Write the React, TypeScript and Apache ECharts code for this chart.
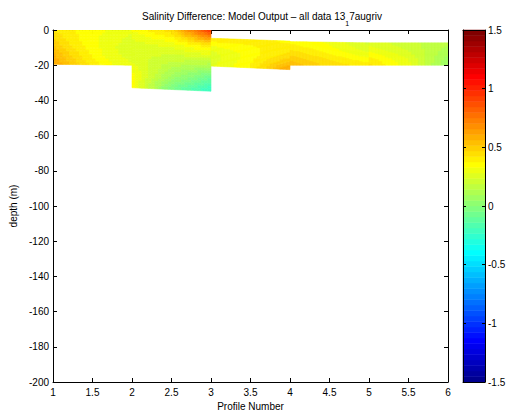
import React, { useEffect, useRef } from "react";
import * as echarts from "echarts";

// ---- data ----
// each section spans two neighbouring profiles
const sectionStart = [1, 2, 3, 4, 5];
const sectionEnd = [2, 3, 4, 5, 6];
const topDepthStart = [0, 0, -4.7, -6.6, -7.3];
const topDepthEnd = [0, 0, -6.3, -7.3, -7.3];
const bottomDepthStart = [-19.5, -32.8, -20.5, -20, -20];
const bottomDepthEnd = [-20, -34.8, -22.5, -20, -20];

// salinity difference at section nodes: rows top -> bottom, columns evenly spaced from start to end profile
const salinitySection1 = [
  [0.42, 0.38, 0.35, 0.32, 0.29],
  [0.47, 0.39, 0.34, 0.3, 0.27],
  [0.52, 0.42, 0.35, 0.29, 0.25],
  [0.58, 0.46, 0.37, 0.3, 0.26],
  [0.62, 0.5, 0.4, 0.33, 0.29],
];
const salinitySection2 = [
  [0.33, 0.45, 0.96],
  [0.26, 0.3, 0.42],
  [0.26, 0.2, 0.2],
  [0.34, 0.1, -0.05],
  [0.36, -0.05, -0.26],
];
const salinitySection3 = [
  [0.42, 0.4, 0.36],
  [0.34, 0.37, 0.4],
  [0.27, 0.35, 0.44],
  [0.25, 0.36, 0.52],
  [0.27, 0.38, 0.62],
];
const salinitySection4 = [
  [0.36, 0.32, 0.22],
  [0.4, 0.34, 0.25],
  [0.45, 0.37, 0.29],
  [0.5, 0.42, 0.34],
  [0.55, 0.45, 0.4],
];
const salinitySection5 = [
  [0.26, 0.2, 0.15],
  [0.3, 0.22, 0.13],
  [0.35, 0.25, 0.1],
  [0.4, 0.28, 0.07],
  [0.43, 0.3, 0.04],
];
const sections = [salinitySection1, salinitySection2, salinitySection3, salinitySection4, salinitySection5];

const colorMin = -1.5;
const colorMax = 1.5;
const FONT = "Liberation Sans, Arial, Helvetica, sans-serif";

function jetColor(index: number) {
  const u = (k: number) => (k < 1 || k > 47 ? 0 : k <= 16 ? k / 16 : k <= 31 ? 1 : (48 - k) / 16);
  const r = u(index - 24), g = u(index - 8), b = u(index + 8);
  return `rgb(${Math.round(r * 255)},${Math.round(g * 255)},${Math.round(b * 255)})`;
}
function valueColor(v: number) {
  const i = Math.min(64, Math.max(1, Math.floor(((v - colorMin) / (colorMax - colorMin)) * 64) + 1));
  return jetColor(i);
}
function sample(grid: number[][], u: number, v: number) {
  const cx = u * (grid[0].length - 1);
  const cy = v * (grid.length - 1);
  const i0 = Math.min(Math.floor(cx), grid[0].length - 2);
  const j0 = Math.min(Math.floor(cy), grid.length - 2);
  const fx = cx - i0, fy = cy - j0;
  const a = grid[j0][i0] * (1 - fx) + grid[j0][i0 + 1] * fx;
  const b = grid[j0 + 1][i0] * (1 - fx) + grid[j0 + 1][i0 + 1] * fx;
  return a * (1 - fy) + b * fy;
}

export default function App() {
  const ref = useRef<HTMLDivElement>(null);
  useEffect(() => {
    if (!ref.current) return;
    const chart = echarts.init(ref.current, undefined, { renderer: "svg" });
    const sectionData = sectionStart.map((s, i) => [s, sectionEnd[i], topDepthStart[i], topDepthEnd[i], bottomDepthStart[i], bottomDepthEnd[i]]);
    const axisLine = { show: true, onZero: false, lineStyle: { color: "#000", width: 1 } };
    const label = { color: "#000", fontSize: 10, fontFamily: FONT };
    chart.setOption({
      animation: false,
      backgroundColor: "#fff",
      title: {
        text: "{a|Salinity Difference: Model Output – all data 13}{s|1}{a|7augriv}",
        left: 137,
        top: 6,
        textStyle: {
          fontWeight: "normal",
          rich: {
            a: { fontSize: 10, fontFamily: FONT, color: "#000", fontWeight: "normal", lineHeight: 12, verticalAlign: "top" },
            s: { fontSize: 7, fontFamily: FONT, color: "#000", fontWeight: "normal", lineHeight: 8, padding: [9, 0, 0, 0], verticalAlign: "top" },
          },
        },
      },
      grid: [
        { left: 53, top: 30, width: 395, height: 352, outerBoundsMode: "none" },
        { left: 463, top: 30, width: 22, height: 352, outerBoundsMode: "none" },
      ],
      xAxis: [
        {
          type: "value", gridIndex: 0, min: 1, max: 6, interval: 0.5, position: "bottom", z: 3,
          axisLine, axisTick: { inside: true, length: 4, lineStyle: { color: "#000" } },
          axisLabel: { ...label, margin: 5 }, splitLine: { show: false },
          name: "Profile Number", nameLocation: "middle", nameGap: 16,
          nameTextStyle: { ...label },
        },
        {
          type: "value", gridIndex: 0, min: 1, max: 6, interval: 0.5, position: "top", z: 0,
          axisLine, axisTick: { inside: true, length: 4, lineStyle: { color: "#000" } },
          axisLabel: { show: false }, splitLine: { show: false },
        },
        {
          type: "value", gridIndex: 1, min: 0, max: 1, position: "bottom", z: 3,
          axisLine, axisTick: { show: false }, axisLabel: { show: false }, splitLine: { show: false },
        },
        {
          type: "value", gridIndex: 1, min: 0, max: 1, position: "top", z: 3,
          axisLine, axisTick: { show: false }, axisLabel: { show: false }, splitLine: { show: false },
        },
      ],
      yAxis: [
        {
          type: "value", gridIndex: 0, min: -200, max: 0, interval: 20, position: "left", z: 3,
          axisLine, axisTick: { inside: true, length: 4, lineStyle: { color: "#000" } },
          axisLabel: { ...label, margin: 4 }, splitLine: { show: false },
          name: "depth (m)", nameLocation: "middle", nameGap: 27, nameRotate: 90,
          nameTextStyle: { ...label },
        },
        {
          type: "value", gridIndex: 0, min: -200, max: 0, interval: 20, position: "right", z: 3,
          axisLine, axisTick: { inside: true, length: 4, lineStyle: { color: "#000" } },
          axisLabel: { show: false }, splitLine: { show: false },
        },
        {
          type: "value", gridIndex: 1, min: -1.5, max: 1.5, interval: 0.5, position: "right", z: 3,
          axisLine, axisTick: { inside: true, length: 3, lineStyle: { color: "#000" } },
          axisLabel: { ...label, margin: 3 }, splitLine: { show: false },
        },
        {
          type: "value", gridIndex: 1, min: -1.5, max: 1.5, interval: 0.5, position: "left", z: 3,
          axisLine, axisTick: { inside: true, length: 3, lineStyle: { color: "#000" } },
          axisLabel: { show: false }, splitLine: { show: false },
        },
      ],
      series: [
        {
          type: "custom",
          xAxisIndex: 0,
          yAxisIndex: 0,
          clip: true,
          silent: true,
          encode: { x: [0, 1], y: [2, 3, 4, 5] },
          data: sectionData,
          renderItem: (params: any, api: any) => {
            const grid = sections[params.dataIndex];
            const x0 = api.value(0), x1 = api.value(1);
            const t0 = api.value(2), t1 = api.value(3);
            const b0 = api.value(4), b1 = api.value(5);
            const NX = 24, NY = 24;
            const pt = (u: number, v: number) => {
              const x = x0 + (x1 - x0) * u;
              const top = t0 + (t1 - t0) * u;
              const bot = b0 + (b1 - b0) * u;
              return api.coord([x, top + (bot - top) * v]);
            };
            const children: any[] = [];
            for (let i = 0; i < NX; i++) {
              for (let j = 0; j < NY; j++) {
                const u0 = i / NX, u1 = (i + 1) / NX, v0 = j / NY, v1 = (j + 1) / NY;
                const c = valueColor(sample(grid, (i + 0.5) / NX, (j + 0.5) / NY));
                children.push({
                  type: "polygon",
                  shape: { points: [pt(u0, v0), pt(u1, v0), pt(u1, v1), pt(u0, v1)] },
                  style: { fill: c, stroke: c, lineWidth: 0.6 },
                });
              }
            }
            return { type: "group", children };
          },
        },
        {
          type: "custom",
          xAxisIndex: 2,
          yAxisIndex: 2,
          silent: true,
          encode: { x: [0, 1], y: [2, 3] },
          data: [[0, 1, colorMin, colorMax]],
          renderItem: (params: any, api: any) => {
            const children: any[] = [];
            const lo = api.value(2), hi = api.value(3);
            for (let k = 0; k < 64; k++) {
              const ya = lo + ((hi - lo) * k) / 64;
              const yb = lo + ((hi - lo) * (k + 1)) / 64;
              const p0 = api.coord([api.value(0), yb]);
              const p1 = api.coord([api.value(1), ya]);
              const c = jetColor(k + 1);
              children.push({
                type: "rect",
                shape: { x: p0[0], y: p0[1], width: p1[0] - p0[0], height: p1[1] - p0[1] },
                style: { fill: c, stroke: c, lineWidth: 0.5 },
              });
            }
            return { type: "group", children };
          },
        },
      ],
    });
    return () => chart.dispose();
  }, []);
  return <div ref={ref} style={{ position: "absolute", left: 0, top: 0, width: 511, height: 411 }} />;
}
